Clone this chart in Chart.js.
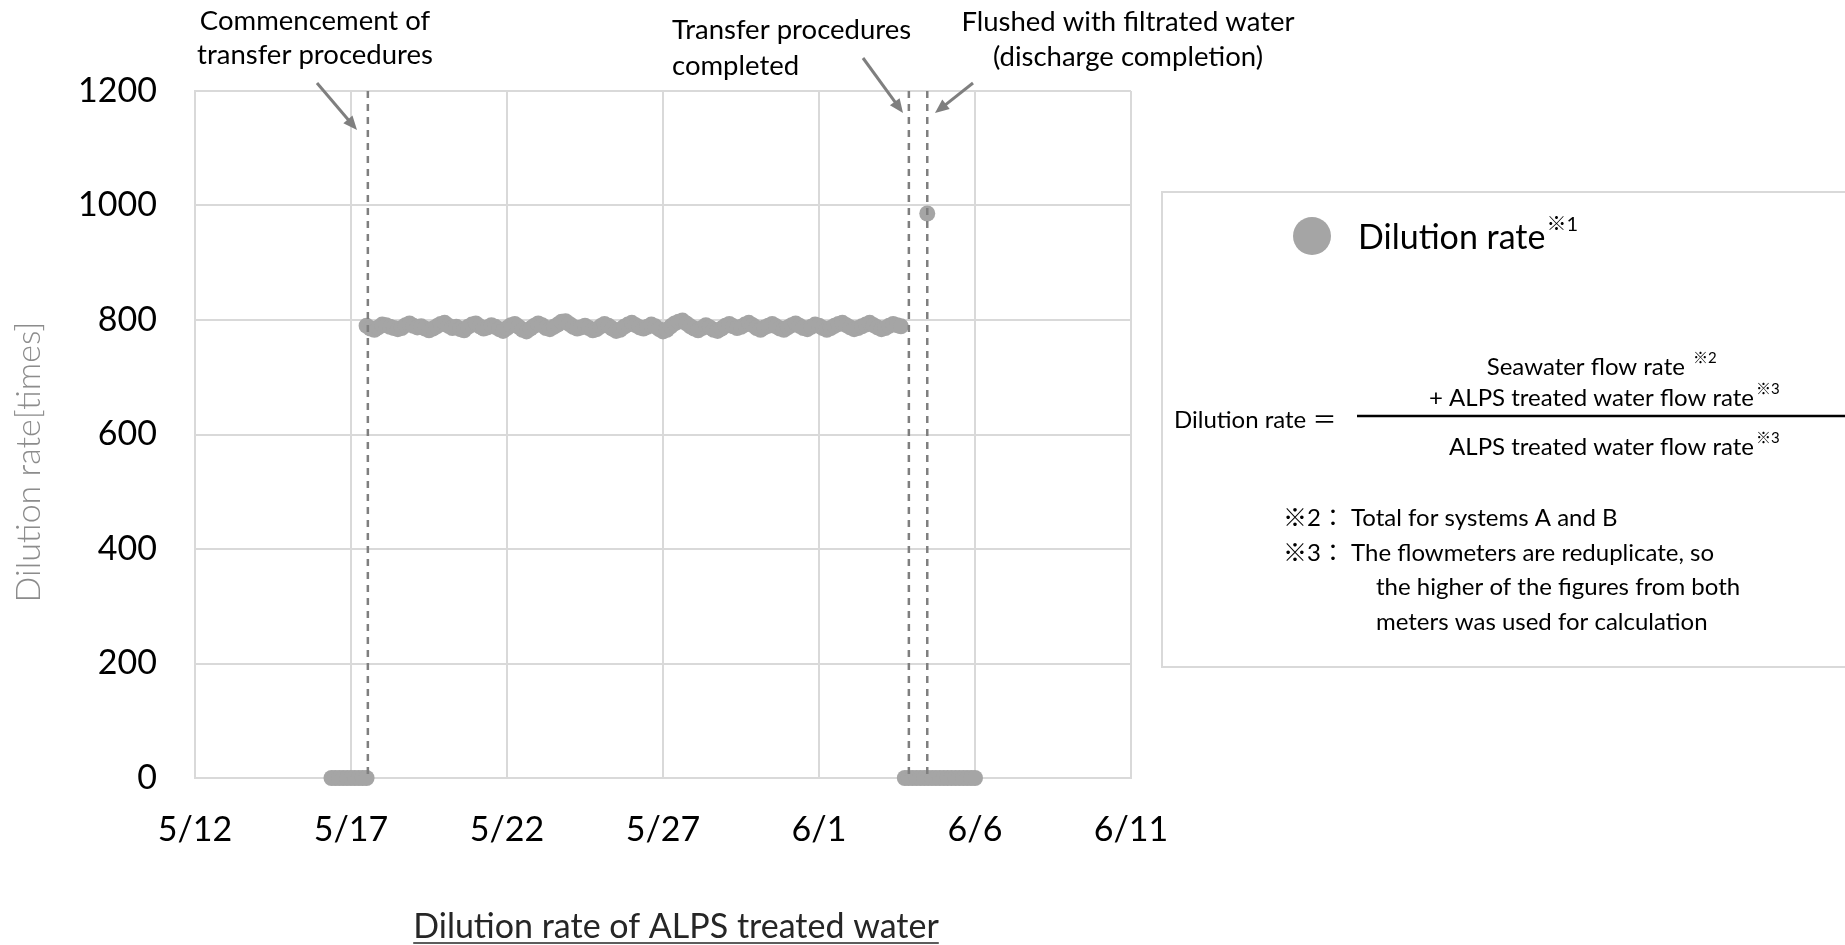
<!DOCTYPE html>
<html>
<head>
<meta charset="utf-8">
<script src="https://cdn.jsdelivr.net/npm/chart.js@4.4.1/dist/chart.umd.min.js"></script>
<style>
  html, body { margin: 0; padding: 0; background: #fff; }
  #wrap { width: 1845px; height: 945px; position: relative; }
</style>
</head>
<body>
<div id="wrap"><canvas id="dilution"></canvas></div>
<script>
// x values are days counted from 5/12 (2024), sampled every 3 hours
const tickDays = [0, 5, 10, 15, 20, 25, 30];
const tickLabels = ["5/12", "5/17", "5/22", "5/27", "6/1", "6/6", "6/11"];
const sampleStep = 0.125;

// before transfer start (zero)
const preStart = 4.375;
const preValues = [0, 0, 0, 0, 0, 0, 0, 0, 0, 0];

// during discharge
const mainStart = 5.5;
const mainValues = [
  790, 785, 783, 787, 792, 791, 788, 786,
  784, 786, 791, 794, 790, 787, 789, 785,
  782, 785, 789, 793, 795, 790, 786, 788,
  784, 782, 788, 792, 794, 789, 785, 787,
  791, 788, 784, 781, 786, 791, 793, 788,
  783, 780, 785, 790, 794, 791, 786, 784,
  788, 792, 797, 798, 793, 788, 785, 787,
  790, 786, 782, 784, 789, 793, 790, 785,
  781, 783, 788, 792, 795, 791, 787, 785,
  788, 792, 789, 784, 780, 783, 789, 794,
  797, 799, 794, 789, 785, 782, 786, 791,
  787, 783, 781, 785, 790, 793, 789, 786,
  788, 792, 795, 791, 786, 783, 787, 790,
  793, 789, 785, 783, 787, 791, 794, 790,
  786, 784, 788, 792, 790, 786, 783, 786,
  790, 793, 795, 791, 787, 784, 786, 789,
  792, 795, 791, 787, 784, 786, 790, 793,
  791, 789,
];

// after transfer completed (zero)
const postStart = 22.75;
const postValues = [0, 0, 0, 0, 0, 0, 0, 0, 0, 0, 0, 0, 0, 0, 0, 0, 0, 0, 0];

// flush with filtrated water
const flushDay = 23.47;
const flushValue = 986;

// dashed event lines: transfer start, transfer completed, flushed
const eventDays = [5.54, 22.88, 23.47];

const toPoints = (start, values) =>
  values.map((v, i) => ({ x: start + i * sampleStep, y: v }));

const points = [
  ...toPoints(preStart, preValues),
  ...toPoints(mainStart, mainValues),
  ...toPoints(postStart, postValues),
  { x: flushDay, y: flushValue },
];

const FONT = "Lato, 'Noto Sans CJK JP', sans-serif";
const GREY = "#a5a5a5";

function arrow(ctx, x1, y1, x2, y2) {
  const ang = Math.atan2(y2 - y1, x2 - x1);
  const head = 14;
  ctx.beginPath();
  ctx.moveTo(x1, y1);
  ctx.lineTo(x2 - Math.cos(ang) * head * 0.8, y2 - Math.sin(ang) * head * 0.8);
  ctx.stroke();
  ctx.beginPath();
  ctx.moveTo(x2, y2);
  ctx.lineTo(x2 - head * Math.cos(ang) + 6 * Math.sin(ang), y2 - head * Math.sin(ang) - 6 * Math.cos(ang));
  ctx.lineTo(x2 - head * Math.cos(ang) - 6 * Math.sin(ang), y2 - head * Math.sin(ang) + 6 * Math.cos(ang));
  ctx.closePath();
  ctx.fill();
}

// text followed by a small raised note mark, text right edge at x
function withSup(ctx, text, sup, x, y, size, supSize) {
  ctx.font = size + "px " + FONT;
  ctx.textAlign = "right";
  ctx.fillText(text, x, y);
  ctx.font = supSize + "px " + FONT;
  ctx.textAlign = "left";
  ctx.fillText(sup, x + 2, y - size * 0.35);
}

const overlay = {
  id: "overlay",
  afterDatasetsDraw(chart) {
    const { ctx, chartArea, scales } = chart;
    ctx.save();
    ctx.strokeStyle = "#7f7f7f";
    ctx.lineWidth = 2.5;
    ctx.setLineDash([7, 6]);
    eventDays.forEach((d) => {
      const px = scales.x.getPixelForValue(d);
      ctx.beginPath();
      ctx.moveTo(px, chartArea.top);
      ctx.lineTo(px, chartArea.bottom);
      ctx.stroke();
    });
    ctx.restore();
  },
  afterDraw(chart) {
    const { ctx } = chart;
    ctx.save();

    // event notes
    ctx.fillStyle = "#000";
    ctx.textBaseline = "middle";
    ctx.font = "27.5px " + FONT;
    ctx.textAlign = "center";
    ctx.fillText("Commencement of", 315, 21);
    ctx.fillText("transfer procedures", 315, 55);
    ctx.fillText("Flushed with filtrated water", 1128, 22);
    ctx.fillText("(discharge completion)", 1128, 57);
    ctx.textAlign = "left";
    ctx.fillText("Transfer procedures", 672, 30);
    ctx.fillText("completed", 672, 66);

    ctx.strokeStyle = "#7f7f7f";
    ctx.fillStyle = "#7f7f7f";
    ctx.lineWidth = 3;
    arrow(ctx, 317, 83, 357, 130);
    arrow(ctx, 863, 58, 903, 113);
    arrow(ctx, 973, 83, 935, 113);

    // y axis title
    ctx.save();
    ctx.translate(29, 462);
    ctx.rotate(-Math.PI / 2);
    ctx.fillStyle = "#8c8c8c";
    ctx.font = "300 34px " + FONT;
    ctx.textAlign = "center";
    ctx.fillText("Dilution rate[times]", 0, 0);
    ctx.restore();

    // legend / formula box
    ctx.strokeStyle = "#d9d9d9";
    ctx.lineWidth = 2;
    ctx.strokeRect(1162, 192, 720, 475);

    ctx.fillStyle = GREY;
    ctx.beginPath();
    ctx.arc(1312, 236, 19, 0, Math.PI * 2);
    ctx.fill();

    ctx.fillStyle = "#000";
    ctx.textAlign = "left";
    ctx.font = "34px " + FONT;
    ctx.fillText("Dilution rate", 1358, 238);
    const w = ctx.measureText("Dilution rate").width;
    ctx.font = "20px " + FONT;
    ctx.fillText("※1", 1358 + w + 1, 225);

    ctx.font = "24px " + FONT;
    ctx.fillText("Dilution rate ＝", 1174, 420);

    ctx.strokeStyle = "#000";
    ctx.lineWidth = 2.5;
    ctx.beginPath();
    ctx.moveTo(1357, 416);
    ctx.lineTo(1845, 416);
    ctx.stroke();

    withSup(ctx, "Seawater flow rate ", "※2", 1691, 367, 24, 15);
    withSup(ctx, "+ ALPS treated water flow rate", "※3", 1754, 398, 24, 15);
    withSup(ctx, "ALPS treated water flow rate", "※3", 1754, 447, 24, 15);

    ctx.font = "24px " + FONT;
    ctx.textAlign = "left";
    ctx.fillText("※2： Total for systems A and B", 1283, 518);
    ctx.fillText("※3： The flowmeters are reduplicate, so", 1283, 553);
    ctx.fillText("the higher of the figures from both", 1376, 587);
    ctx.fillText("meters was used for calculation", 1376, 622);

    // bottom caption, underlined
    ctx.fillStyle = "#262626";
    ctx.font = "34px " + FONT;
    ctx.textAlign = "center";
    const cap = "Dilution rate of ALPS treated water";
    ctx.fillText(cap, 676, 927);
    const cw = ctx.measureText(cap).width;
    ctx.strokeStyle = "#262626";
    ctx.lineWidth = 1.5;
    ctx.beginPath();
    ctx.moveTo(676 - cw / 2, 943);
    ctx.lineTo(676 + cw / 2, 943);
    ctx.stroke();

    ctx.restore();
  },
};

const ctxDilution = document.getElementById("dilution").getContext("2d");
const dilutionChart = new Chart(ctxDilution, {
  type: "scatter",
  data: {
    datasets: [
      {
        label: "Dilution rate",
        data: points,
        backgroundColor: GREY,
        borderColor: GREY,
        borderWidth: 0,
        pointRadius: 8,
        pointHoverRadius: 8,
        clip: false,
      },
    ],
  },
  options: {
    responsive: true,
    maintainAspectRatio: false,
    animation: false,
    layout: {
      padding: { left: 0, top: 91, right: 714, bottom: 0 },
    },
    scales: {
      x: {
        type: "linear",
        min: 0,
        max: 30,
        afterFit: (scale) => {
          scale.height = 167;
        },
        afterBuildTicks: (scale) => {
          scale.ticks = tickDays.map((v) => ({ value: v }));
        },
        grid: { color: "#d9d9d9", lineWidth: 2, drawTicks: false },
        border: { color: "#d9d9d9", width: 2 },
        ticks: {
          padding: 32,
          color: "#000",
          font: { family: FONT, size: 34 },
          maxRotation: 0,
          callback: (value) => tickLabels[tickDays.indexOf(value)],
        },
      },
      y: {
        min: 0,
        max: 1200,
        afterFit: (scale) => {
          scale.width = 195;
        },
        grid: { color: "#d9d9d9", lineWidth: 2, drawTicks: false },
        border: { color: "#d9d9d9", width: 2 },
        ticks: {
          stepSize: 200,
          padding: 38,
          color: "#000",
          font: { family: FONT, size: 34 },
          callback: (value) => String(value),
        },
      },
    },
    plugins: {
      legend: { display: false },
      tooltip: { enabled: false },
    },
  },
  plugins: [overlay],
});
</script>
</body>
</html>
